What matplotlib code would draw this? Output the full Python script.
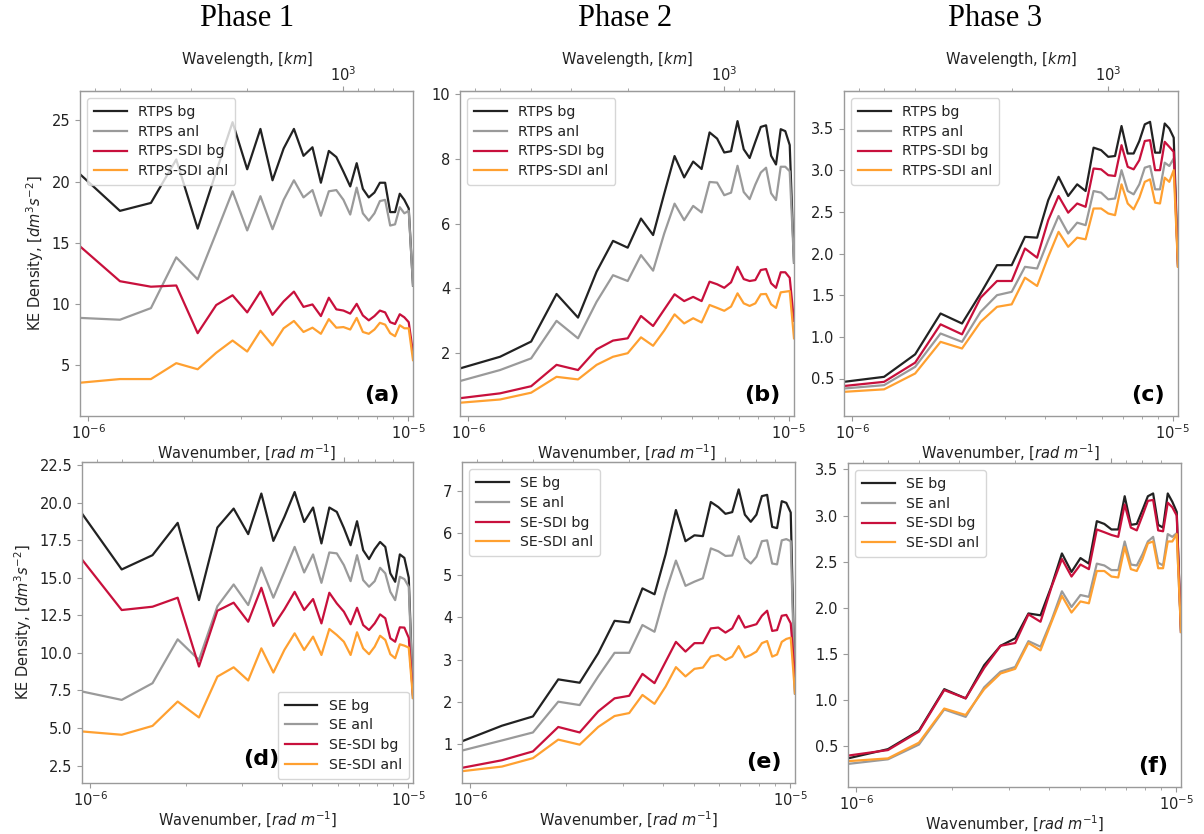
import numpy as np
import matplotlib
matplotlib.use("Agg")
import matplotlib.pyplot as plt
from matplotlib.ticker import NullFormatter, FixedLocator

# ---------------- data ----------------
# wavenumbers in units of 1e-6 rad/m
wavenumber_e6 = [0.9425, 1.2566, 1.5708, 1.8850, 2.1991, 2.5133, 2.8274, 3.1416,
                 3.4558, 3.7699, 4.0841, 4.3982, 4.7124, 5.0265, 5.3407, 5.6549,
                 5.9690, 6.2832, 6.5973, 6.9115, 7.2257, 7.5398, 7.8540, 8.1681,
                 8.4823, 8.7965, 9.1106, 9.4248, 9.7389, 10.0531, 10.3673]

phase_titles = ["Phase 1", "Phase 2", "Phase 3"]
panel_labels = ["(a)", "(b)", "(c)", "(d)", "(e)", "(f)"]
top_names = ["RTPS bg", "RTPS anl", "RTPS-SDI bg", "RTPS-SDI anl"]
bottom_names = ["SE bg", "SE anl", "SE-SDI bg", "SE-SDI anl"]
wavelength_major_km = [1000]
wavelength_minor_km = [700, 800, 900, 2000, 3000, 4000, 5000, 6000]

# Panel (a)
a_bg = [20.6, 17.6, 18.25, 21.8, 16.15, 20.8, 24.85, 21.0, 24.3, 20.1, 22.7, 24.3, 22.1, 22.8, 19.9, 22.5,
        22.0, 20.8, 19.6, 21.5, 19.4, 18.7, 19.1, 19.9, 19.9, 17.5, 17.5, 19.0, 18.5, 17.8, 11.5]
a_anl = [8.85, 8.7, 9.65, 13.8, 12.0, 15.8, 19.2, 16.0, 18.8, 16.1, 18.5, 20.1, 18.7, 19.3, 17.2, 19.2,
         19.3, 18.5, 17.3, 19.5, 17.4, 16.8, 17.4, 18.4, 18.5, 16.4, 16.5, 17.9, 17.4, 17.6, 11.5]
a_sdi_bg = [14.7, 11.85, 11.4, 11.5, 7.6, 9.9, 10.7, 9.3, 11.0, 9.1, 10.2, 11.0, 9.75, 9.95, 9.0, 10.5,
            9.55, 9.45, 9.2, 10.0, 9.05, 8.65, 9.0, 9.45, 9.3, 8.5, 8.35, 9.15, 8.9, 8.5, 6.0]
a_sdi_anl = [3.55, 3.85, 3.85, 5.15, 4.65, 6.0, 7.0, 6.1, 7.8, 6.6, 8.0, 8.6, 7.7, 8.05, 7.55, 8.75,
             8.05, 8.1, 7.9, 8.85, 7.7, 7.55, 7.9, 8.45, 8.3, 7.6, 7.35, 8.25, 8.0, 8.0, 5.4]

# Panel (b)
b_bg = [1.53, 1.89, 2.36, 3.83, 3.1, 4.52, 5.47, 5.26, 6.16, 5.65, 6.93, 8.09, 7.43, 7.92, 7.69, 8.82,
        8.63, 8.2, 8.24, 9.17, 8.3, 8.03, 8.53, 8.99, 9.04, 8.1, 7.83, 8.92, 8.86, 8.43, 4.8]
b_anl = [1.14, 1.48, 1.84, 3.0, 2.46, 3.59, 4.41, 4.23, 5.03, 4.55, 5.7, 6.62, 6.11, 6.55, 6.35, 7.29,
         7.27, 6.88, 6.96, 7.79, 6.98, 6.76, 7.21, 7.58, 7.73, 6.94, 6.73, 7.76, 7.76, 7.62, 4.8]
b_sdi_bg = [0.61, 0.76, 0.98, 1.64, 1.48, 2.12, 2.39, 2.46, 3.15, 2.84, 3.35, 3.82, 3.61, 3.74, 3.61, 4.21,
            4.13, 4.02, 4.19, 4.67, 4.29, 4.23, 4.26, 4.57, 4.6, 4.16, 4.02, 4.5, 4.5, 4.33, 3.0]
b_sdi_anl = [0.47, 0.57, 0.78, 1.27, 1.19, 1.64, 1.89, 2.0, 2.49, 2.23, 2.7, 3.2, 2.92, 3.08, 2.95, 3.49,
             3.4, 3.31, 3.44, 3.85, 3.54, 3.46, 3.54, 3.82, 3.83, 3.51, 3.4, 3.88, 3.9, 3.92, 2.46]

# Panel (c)
c_bg = [0.46, 0.52, 0.79, 1.28, 1.16, 1.52, 1.86, 1.86, 2.2, 2.19, 2.64, 2.92, 2.69, 2.83, 2.75, 3.27,
        3.24, 3.16, 3.17, 3.53, 3.2, 3.2, 3.35, 3.55, 3.58, 3.21, 3.21, 3.56, 3.5, 3.39, 1.85]
c_anl = [0.38, 0.42, 0.64, 1.04, 0.94, 1.3, 1.5, 1.54, 1.84, 1.82, 2.16, 2.45, 2.24, 2.37, 2.34, 2.75,
         2.73, 2.65, 2.66, 3.0, 2.75, 2.71, 2.83, 3.03, 3.05, 2.77, 2.77, 3.09, 3.05, 3.14, 1.85]
c_sdi_bg = [0.41, 0.46, 0.69, 1.15, 1.03, 1.47, 1.67, 1.67, 2.06, 1.95, 2.4, 2.69, 2.49, 2.6, 2.56, 3.02,
            3.01, 2.94, 2.93, 3.3, 3.04, 3.01, 3.12, 3.35, 3.36, 3.0, 3.0, 3.34, 3.28, 3.22, 1.85]
c_sdi_anl = [0.34, 0.37, 0.56, 0.94, 0.86, 1.18, 1.36, 1.39, 1.71, 1.61, 1.96, 2.26, 2.08, 2.19, 2.17, 2.54,
             2.54, 2.48, 2.46, 2.83, 2.6, 2.53, 2.67, 2.86, 2.89, 2.61, 2.6, 2.91, 2.86, 3.0, 1.84]

# Panel (d)
d_bg = [19.27, 15.55, 16.5, 18.65, 13.51, 18.34, 19.6, 17.9, 20.6, 17.45, 19.05, 20.7, 18.71, 19.67, 17.28, 19.67,
        19.38, 18.31, 17.16, 18.76, 16.83, 16.24, 16.9, 17.38, 17.05, 15.29, 14.73, 16.55, 16.32, 15.0, 7.0]
d_anl = [7.43, 6.87, 7.98, 10.9, 9.53, 13.1, 14.55, 13.18, 15.68, 13.67, 15.4, 17.05, 15.35, 16.55, 14.66, 16.68,
         16.62, 15.84, 14.77, 16.5, 14.84, 14.4, 14.77, 15.66, 15.29, 14.06, 13.51, 15.06, 14.91, 14.4, 7.0]
d_sdi_bg = [16.21, 12.85, 13.07, 13.67, 9.09, 12.8, 13.34, 12.07, 14.33, 11.79, 12.9, 14.06, 12.85, 13.58, 11.96, 14.0,
            13.29, 12.74, 11.9, 13.0, 11.85, 11.52, 11.96, 12.56, 12.3, 10.97, 10.74, 11.7, 11.68, 11.0, 7.2]
d_sdi_anl = [4.77, 4.55, 5.14, 6.76, 5.7, 8.42, 9.04, 8.16, 10.3, 8.69, 10.2, 11.3, 10.19, 11.08, 9.86, 11.59,
             11.19, 10.74, 9.86, 11.37, 10.3, 9.91, 10.41, 11.14, 10.86, 9.91, 9.64, 10.57, 10.48, 10.35, 7.0]

# Panel (e)
e_bg = [1.06, 1.43, 1.65, 2.53, 2.45, 3.15, 3.92, 3.88, 4.69, 4.55, 5.5, 6.55, 5.81, 5.95, 5.93, 6.74,
        6.62, 6.46, 6.5, 7.04, 6.44, 6.27, 6.44, 6.88, 6.91, 6.15, 6.12, 6.76, 6.72, 6.49, 2.2]
e_anl = [0.84, 1.08, 1.27, 2.0, 1.92, 2.6, 3.16, 3.16, 3.82, 3.66, 4.6, 5.35, 4.75, 4.85, 4.93, 5.64,
         5.57, 5.46, 5.47, 5.93, 5.41, 5.28, 5.44, 5.81, 5.83, 5.28, 5.26, 5.83, 5.86, 5.81, 2.2]
e_sdi_bg = [0.43, 0.61, 0.82, 1.4, 1.27, 1.77, 2.08, 2.14, 2.66, 2.44, 2.95, 3.42, 3.19, 3.39, 3.39, 3.74,
            3.76, 3.64, 3.74, 4.04, 3.76, 3.8, 3.84, 4.04, 4.16, 3.68, 3.7, 4.04, 4.06, 3.86, 2.6]
e_sdi_anl = [0.35, 0.46, 0.66, 1.1, 0.98, 1.4, 1.66, 1.73, 2.16, 1.95, 2.36, 2.82, 2.6, 2.78, 2.81, 3.07,
             3.11, 2.99, 3.07, 3.32, 3.05, 3.11, 3.19, 3.39, 3.44, 3.07, 3.12, 3.42, 3.49, 3.52, 2.2]

# Panel (f)
f_bg = [0.37, 0.47, 0.67, 1.12, 1.02, 1.38, 1.59, 1.67, 1.94, 1.92, 2.24, 2.59, 2.39, 2.54, 2.48, 2.94,
        2.91, 2.85, 2.85, 3.21, 2.9, 2.91, 3.06, 3.21, 3.24, 2.9, 2.87, 3.24, 3.15, 3.04, 1.74]
f_anl = [0.31, 0.36, 0.52, 0.9, 0.82, 1.14, 1.31, 1.36, 1.64, 1.58, 1.87, 2.18, 2.01, 2.14, 2.12, 2.48,
         2.46, 2.41, 2.41, 2.72, 2.47, 2.46, 2.58, 2.72, 2.77, 2.49, 2.46, 2.8, 2.77, 2.81, 1.74]
f_sdi_bg = [0.4, 0.46, 0.66, 1.11, 1.02, 1.35, 1.59, 1.62, 1.93, 1.85, 2.23, 2.53, 2.34, 2.47, 2.42, 2.85,
            2.82, 2.79, 2.77, 3.12, 2.87, 2.84, 3.0, 3.16, 3.17, 2.84, 2.83, 3.14, 3.09, 3.0, 1.74]
f_sdi_anl = [0.34, 0.37, 0.54, 0.91, 0.84, 1.12, 1.29, 1.34, 1.62, 1.54, 1.85, 2.13, 1.95, 2.07, 2.05, 2.4,
             2.4, 2.34, 2.33, 2.66, 2.42, 2.4, 2.53, 2.7, 2.72, 2.43, 2.43, 2.72, 2.72, 2.8, 1.74]

panel_series = [
    [a_bg, a_anl, a_sdi_bg, a_sdi_anl],
    [b_bg, b_anl, b_sdi_bg, b_sdi_anl],
    [c_bg, c_anl, c_sdi_bg, c_sdi_anl],
    [d_bg, d_anl, d_sdi_bg, d_sdi_anl],
    [e_bg, e_anl, e_sdi_bg, e_sdi_anl],
    [f_bg, f_anl, f_sdi_bg, f_sdi_anl],
]
y_limits = [(0.83, 27.4), (0.06, 10.1), (0.05, 3.95), (1.34, 22.7), (0.07, 7.69), (0.06, 3.57)]
y_ticks = [[5, 10, 15, 20, 25], [2, 4, 6, 8, 10], [0.5, 1.0, 1.5, 2.0, 2.5, 3.0, 3.5],
           [2.5, 5.0, 7.5, 10.0, 12.5, 15.0, 17.5, 20.0, 22.5], [1, 2, 3, 4, 5, 6, 7],
           [0.5, 1.0, 1.5, 2.0, 2.5, 3.0, 3.5]]

# ---------------- style ----------------
colors = ["#222222", "#9a9a9a", "#c8103c", "#ffa030"]
spine_col = "#9a9a9a"
text_col = "#222222"

W, H = 1204, 834
fig = plt.figure(figsize=(W / 100, H / 100), dpi=100)

# axes boxes in pixels: left, right, top, bottom
boxes = [(80, 413, 91, 416), (460, 794, 91, 416), (844, 1178, 91, 416),
         (82, 413, 462, 783), (462, 795, 462, 783), (848, 1181, 463, 787)]

k = np.array(wavenumber_e6) * 1e-6


def k2lam(x):
    x = np.asarray(x, dtype=float)
    with np.errstate(divide="ignore", invalid="ignore"):
        return 2 * np.pi / x / 1000.0


for i in range(6):
    l, r, t, b = boxes[i]
    ax = fig.add_axes([l / W, 1 - b / H, (r - l) / W, (b - t) / H])
    names = top_names if i < 3 else bottom_names
    for s, (vals, name) in enumerate(zip(panel_series[i], names)):
        ax.plot(k, vals, color=colors[s], lw=1.6, label=name)
    ax.set_xscale("log")
    ax.set_xlim(k[0], k[-1])
    ax.set_ylim(*y_limits[i])
    ax.set_yticks(y_ticks[i])
    if i in (2, 5, 3):
        ax.set_yticklabels([f"{v:.1f}" for v in y_ticks[i]])
    ax.xaxis.set_minor_formatter(NullFormatter())
    for sp in ax.spines.values():
        sp.set_color(spine_col)
        sp.set_linewidth(1.0)
    ax.tick_params(which="both", colors=spine_col, labelcolor=text_col, labelsize=10.5)
    ax.tick_params(axis="x", which="both", pad=1.5)
    ax.set_xlabel("Wavenumber, [$rad\\ m^{-1}$]", fontsize=10.5, color=text_col, labelpad=1)
    if i in (0, 3):
        ax.set_ylabel("KE Density, [$dm^3s^{-2}$]", fontsize=10.5, color=text_col)

    sec = ax.secondary_xaxis("top", functions=(k2lam, k2lam))
    sec.xaxis.set_major_locator(FixedLocator(wavelength_major_km))
    sec.xaxis.set_minor_locator(FixedLocator(wavelength_minor_km))
    sec.xaxis.set_minor_formatter(NullFormatter())
    sec.tick_params(which="both", colors=spine_col, labelcolor=text_col, labelsize=10.5, pad=1.5)
    sec.spines["top"].set_color(spine_col)
    if i < 3:
        sec.set_xlabel("Wavelength, [$km$]", fontsize=10.5, color=text_col, labelpad=1)
    else:
        sec.tick_params(labeltop=False)

    if i == 3:
        leg = ax.legend(loc="lower right", fontsize=10.2, handlelength=2.3, borderpad=0.5,
                        labelspacing=0.4, borderaxespad=0.3)
        ax.text(0.595, 0.045, panel_labels[i], transform=ax.transAxes, ha="right", va="bottom",
                fontsize=16, fontweight="bold")
    else:
        leg = ax.legend(loc="upper left", fontsize=10.2, handlelength=2.3, borderpad=0.5,
                        labelspacing=0.4)
        ax.text(0.96, 0.035, panel_labels[i], transform=ax.transAxes, ha="right", va="bottom",
                fontsize=16, fontweight="bold")
    for txt in leg.get_texts():
        txt.set_color(text_col)

for j, (title, xc) in enumerate(zip(phase_titles, [247, 625, 995])):
    fig.text(xc / W, 1 - 18 / H, title, ha="center", va="center", fontsize=22,
             family=["Liberation Serif", "DejaVu Serif"])

fig.savefig("out.png", dpi=100)
